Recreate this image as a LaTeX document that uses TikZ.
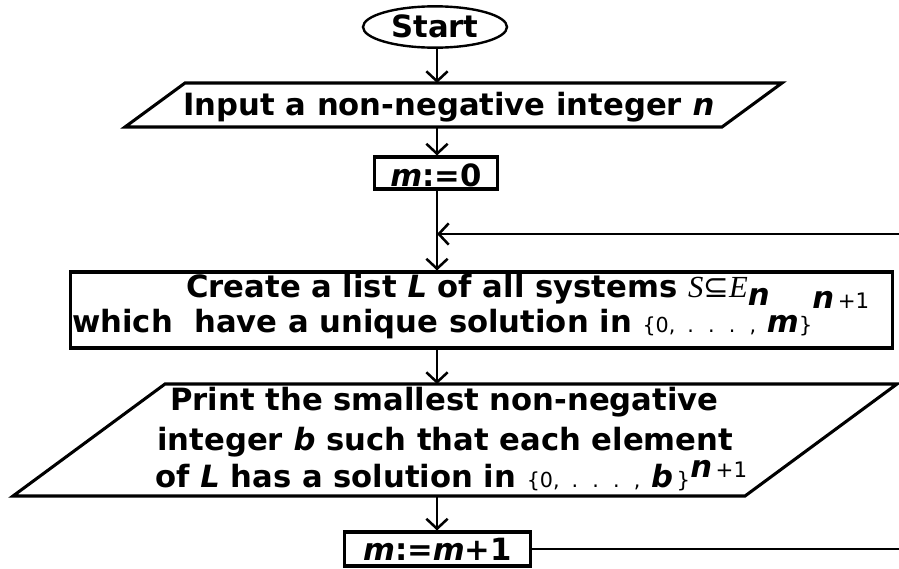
\documentclass[tikz,border=0pt]{standalone}
\usepackage{fontspec}
\setmainfont{DejaVu Sans}
\newfontfamily\tms{Liberation Serif}
\usetikzlibrary{shapes.geometric,arrows.meta}
\newcommand\bi[1]{{\bfseries\itshape #1}}
\newcommand\smt[1]{{\mdseries\upshape\fontsize{16}{16}\selectfont #1}}
\newcommand\sset[1]{{\mdseries\upshape\fontsize{15.5}{15.5}\selectfont\spaceskip=9pt plus 1pt #1}}
\newcommand\srf[1]{{\tms\mdseries\itshape\fontsize{23}{23}\selectfont #1}}
\begin{document}
\begin{tikzpicture}[x=0.75pt,y=-0.75pt,
  txt/.style={font=\bfseries\fontsize{23}{27}\selectfont, inner sep=0pt, anchor=base},
  txl/.style={txt, anchor=base west},
  shp/.style={draw, line width=2.3pt, fill=white},
  conn/.style={line width=1.9pt, -{Straight Barb[length=7.5pt,width=16pt,line width=1.9pt]}},
  plain/.style={line width=1.9pt}]
\useasboundingbox (0,0) rectangle (899,568);

% Start
\node[shp, ellipse, line width=1.8pt, minimum width=108pt, minimum height=31pt, inner sep=0pt] (start) at (435,27) {};
\node[txt] (starttxt) at (435,37) {Start};

% Input parallelogram
\draw[shp] (185,83) -- (782,83) -- (722,127) -- (125,127) -- cycle;
\coordinate (inT) at (437,83);
\coordinate (inB) at (437,127);
\node[txl] (intxt) at (183,115) {Input a non-negative integer \bi{n}};

% m:=0
\node[shp, minimum width=92pt, minimum height=24pt, inner sep=0pt] (m0) at (436,173) {};
\node[txt] (m0txt) at (436,186) {\bi{m}:=0};

% Create box
\node[shp, minimum width=617pt, minimum height=57pt, inner sep=0pt] (create) at (481.5,310) {};
\node[txl] (c1) at (186,297) {Create a list \bi{L} of all systems \srf{S}{\mdseries ⊆}\srf{E}\raisebox{-6pt}{\bi{n}}};
\node[txl] (c2) at (72,332) {which\ \ have a unique solution in \sset{\{0, . . . ,} \bi{m}\smt{\}}\raisebox{18pt}{\bi{n}\smt{\,+1}}};

% Print parallelogram
\draw[shp] (165,384) -- (897,384) -- (745,496) -- (13,496) -- cycle;
\coordinate (prT) at (437,384);
\coordinate (prB) at (437,496);
\node[txl] (p1) at (170,410) {Print the smallest non-negative};
\node[txl] (p2) at (157,450) {integer \bi{b} such that each element};
\node[txl] (p3) at (155,487) {of \bi{L} has a solution in \sset{\{0, . . . ,} \bi{b}\smt{\,\}}\raisebox{7pt}{\bi{n}\smt{\,+1}}};

% m:=m+1
\node[shp, minimum width=140pt, minimum height=25.5pt, inner sep=0pt] (m1) at (437.5,549) {};
\node[txt] (m1txt) at (437.5,560) {\bi{m}:=\bi{m}+1};

% connectors
\coordinate (merge) at (437,234);
\coordinate (back) at (899,234);
\coordinate (out) at (899,549);
\draw[conn] (start.south -| inT) -- (inT);
\draw[conn] (inB) -- (m0.north -| inB);
\draw[conn] (m0.south -| inB) -- (create.north -| inB);
\draw[conn] (back) -- (merge);
\draw[conn] (create.south -| prT) -- (prT);
\draw[conn] (prB) -- (m1.north -| prB);
\draw[plain] (m1.east) -- (out);
\end{tikzpicture}
\end{document}
